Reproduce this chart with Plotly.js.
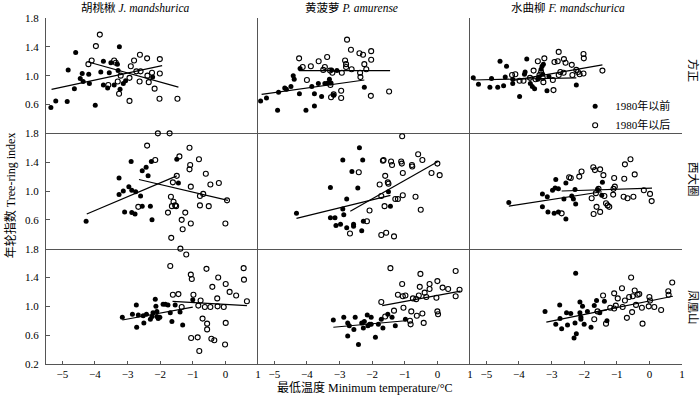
<!DOCTYPE html>
<html><head><meta charset="utf-8">
<script src="https://cdn.plot.ly/plotly-3.0.1.min.js"></script>
<style>html,body{margin:0;padding:0;background:#fff}#chart{width:700px;height:398px}</style>
</head><body><div id="chart"></div>
<script>
// ---- categories / labels ----
const species = ['胡桃楸 <i>J. mandshurica</i>', '黄菠萝 <i>P. amurense</i>', '水曲柳 <i>F. mandschurica</i>'];
const sites = ['方正', '西大圈', '凤凰山'];
const groups = ['1980年以前', '1980年以后'];
const xTickVals = [-5, -4, -3, -2, -1, 0, 1];
const yTickValsUpper = [0.6, 1.0, 1.4, 1.8];
const yTickValsBottom = [0.2, 0.6, 1.0, 1.4, 1.8];
const xTitle = '最低温度 Minimum temperature/°C';
const yTitle = '年轮指数 Tree-ring index';

// ---- 方正 / J. mandshurica ----
const p11_pre_x = [-5.35,-5.20,-4.85,-4.82,-4.59,-4.63,-4.45,-4.39,-4.36,-4.19,-4.17,-3.99,-3.82,-3.74,-3.74,-3.61,-3.56,-3.51,-3.31,-3.25,-3.29,-3.41,-3.23,-3.13,-3.06,-2.23];
const p11_pre_y = [0.56,0.65,0.64,1.08,1.32,0.82,0.96,1.03,0.92,1.02,0.89,0.59,1.05,1.20,0.87,0.83,1.04,1.18,1.16,1.40,1.07,0.87,0.81,0.89,0.93,0.98];
const p11_post_x = [-4.20,-4.10,-3.97,-3.85,-3.59,-3.41,-3.36,-3.30,-3.26,-3.21,-2.94,-2.94,-2.90,-2.80,-2.73,-2.62,-2.60,-2.63,-2.40,-2.39,-2.35,-2.25,-2.17,-2.02,-2.01,-2.01,-1.47];
const p11_post_y = [1.16,1.21,1.41,1.57,0.87,1.21,1.18,0.92,0.75,1.00,0.65,0.97,1.13,1.21,1.06,1.29,1.06,0.92,1.24,1.00,0.91,1.04,0.82,0.68,1.23,1.03,0.68];
const p11_fitPre_x = [-5.33,-1.94], p11_fitPre_y = [0.81,1.14];
const p11_fitPost_x = [-4.20,-1.44], p11_fitPost_y = [1.19,0.84];

// ---- 方正 / P. amurense ----
const p12_pre_x = [-5.42,-5.24,-4.90,-4.87,-4.68,-4.63,-4.49,-4.42,-4.39,-4.23,-4.21,-4.03,-3.85,-3.77,-3.77,-3.65,-3.55,-3.45,-3.36,-3.31,-3.26,-3.24,-3.18,-3.08,-2.24];
const p12_pre_y = [0.65,0.69,0.52,0.77,0.83,0.81,0.85,1.00,0.95,0.75,1.10,0.52,0.85,0.58,0.75,0.89,0.71,0.89,0.90,0.95,0.90,1.08,0.73,1.07,0.84];
const p12_post_x = [-4.24,-4.13,-4.00,-3.88,-3.64,-3.50,-3.45,-3.38,-3.29,-3.28,-3.26,-3.22,-3.18,-2.95,-2.93,-2.95,-2.83,-2.80,-2.80,-2.77,-2.65,-2.63,-2.39,-2.37,-2.36,-2.28,-2.24,-2.18,-2.03,-2.03,-2.04,-1.48];
const p12_post_y = [1.24,1.12,0.94,1.13,1.20,1.08,1.12,1.26,1.07,0.87,0.70,1.04,0.74,0.79,1.04,0.69,1.21,1.16,1.12,1.50,1.36,1.09,1.31,1.04,0.98,1.29,1.16,1.09,1.34,1.22,0.72,0.78];
const p12_fitPre_x = [-5.39,-2.24], p12_fitPre_y = [0.74,0.94];
const p12_fitPost_x = [-4.24,-1.45], p12_fitPost_y = [1.07,1.07];

// ---- 方正 / F. mandschurica ----
const p13_pre_x = [-5.40,-5.24,-4.89,-4.84,-4.65,-4.58,-4.47,-4.42,-4.38,-4.19,-4.19,-3.98,-3.83,-3.81,-3.76,-3.65,-3.59,-3.52,-3.42,-3.39,-3.32,-3.29,-3.27,-3.25,-3.14,-3.08,-2.24];
const p13_pre_y = [0.97,0.88,0.84,0.96,0.84,1.20,0.86,0.98,1.13,0.89,0.95,0.71,1.02,1.05,1.23,0.89,0.85,0.82,0.95,0.98,1.09,1.13,1.02,1.16,0.79,0.99,0.87];
const p13_post_x = [-4.21,-4.11,-3.98,-3.86,-3.66,-3.55,-3.49,-3.42,-3.37,-3.32,-3.25,-3.22,-3.27,-2.94,-2.96,-2.91,-2.81,-2.78,-2.78,-2.73,-2.63,-2.62,-2.57,-2.38,-2.36,-2.24,-2.19,-2.14,-2.02,-2.01,-2.02,-1.44];
const p13_post_y = [1.01,1.02,0.93,0.93,0.97,1.07,0.95,1.20,1.01,1.05,0.91,1.24,0.97,0.80,0.94,1.19,1.20,1.33,1.01,1.05,1.04,1.23,1.18,1.15,1.01,1.08,1.05,1.02,1.30,1.24,1.03,1.07];
const p13_fitPre_x = [-5.40,-2.24], p13_fitPre_y = [0.94,0.97];
const p13_fitPost_x = [-4.21,-1.44], p13_fitPost_y = [0.93,1.15];

// ---- 西大圈 / J. mandshurica ----
const p21_pre_x = [-4.27,-3.26,-3.26,-3.13,-3.09,-2.96,-2.89,-2.87,-2.87,-2.77,-2.75,-2.60,-2.55,-2.55,-2.43,-2.37,-2.30,-2.27,-2.25,-1.49,-1.44];
const p21_pre_y = [0.58,1.18,0.95,1.00,0.71,1.06,1.41,0.70,1.01,0.68,0.99,0.93,1.28,0.79,1.33,1.21,0.79,1.41,0.60,1.44,1.11];
const p21_post_x = [-2.67,-2.40,-2.15,-2.07,-1.76,-1.71,-1.67,-1.66,-1.64,-1.61,-1.59,-1.54,-1.51,-1.49,-1.41,-1.34,-1.31,-1.23,-1.10,-1.08,-1.10,-1.06,-1.06,-0.81,-0.78,-0.78,-0.68,-0.60,-0.51,-0.46,-0.20,0.00,0.05];
const p21_post_y = [0.78,1.63,1.43,1.80,0.70,1.80,0.92,0.35,0.79,1.12,0.85,0.80,0.79,1.21,1.48,0.60,0.47,0.70,1.60,1.36,1.30,1.06,0.55,1.44,0.80,0.93,0.96,1.24,0.79,1.09,1.11,0.55,0.87];
const p21_fitPre_x = [-4.25,-1.49], p21_fitPre_y = [0.68,1.21];
const p21_fitPost_x = [-2.65,0.08], p21_fitPost_y = [1.16,0.87];

// ---- 西大圈 / P. amurense ----
const p22_pre_x = [-4.32,-3.28,-3.28,-3.14,-3.11,-2.97,-2.90,-2.90,-2.87,-2.78,-2.78,-2.62,-2.57,-2.57,-2.44,-2.39,-2.32,-2.29,-2.27,-1.50,-1.44];
const p22_pre_y = [0.69,1.05,0.63,0.63,0.52,0.54,1.43,0.75,0.67,0.89,0.49,1.27,0.54,0.51,1.04,1.60,0.45,1.43,0.58,0.99,0.79];
const p22_post_x = [-2.68,-2.41,-2.16,-2.08,-1.77,-1.72,-1.72,-1.67,-1.65,-1.62,-1.60,-1.57,-1.52,-1.50,-1.42,-1.39,-1.33,-1.29,-1.21,-1.11,-1.09,-1.08,-1.06,-1.06,-0.78,-0.77,-0.67,-0.59,-0.51,-0.46,-0.18,0.00,0.07];
const p22_post_y = [0.41,1.26,0.58,0.73,1.09,0.39,0.93,1.42,1.43,0.79,1.21,0.42,1.12,1.10,1.41,1.36,0.37,0.89,0.89,1.41,1.38,1.76,1.25,0.94,1.36,1.34,0.92,1.51,0.74,1.43,1.25,1.38,1.22];
const p22_fitPre_x = [-4.32,-1.44], p22_fitPre_y = [0.62,0.94];
const p22_fitPost_x = [-2.67,0.02], p22_fitPost_y = [0.72,1.41];

// ---- 西大圈 / F. mandschurica ----
const p23_pre_x = [-4.31,-3.28,-3.28,-3.13,-3.11,-2.97,-2.92,-2.89,-2.87,-2.79,-2.79,-2.62,-2.56,-2.56,-2.38,-2.33,-2.28,-2.26,-1.59,-1.46,-1.44];
const p23_pre_y = [0.84,0.96,0.78,0.92,0.71,1.01,0.69,1.04,1.16,1.03,0.71,0.89,1.11,0.61,0.93,0.89,1.02,0.82,1.02,0.94,1.12];
const p23_post_x = [-2.69,-2.46,-2.41,-2.15,-2.08,-1.77,-1.72,-1.67,-1.71,-1.62,-1.64,-1.56,-1.51,-1.51,-1.41,-1.38,-1.33,-1.28,-1.23,-1.11,-1.10,-1.08,-1.06,-0.79,-0.77,-0.75,-0.67,-0.58,-0.49,-0.45,-0.17,0.02,0.07];
const p23_post_y = [0.69,1.19,1.18,1.20,1.27,0.90,1.33,1.29,0.68,0.78,0.97,1.03,1.30,0.71,1.22,0.93,0.83,0.80,0.78,0.95,1.03,1.18,1.06,0.92,1.17,1.37,0.90,1.44,0.92,1.23,1.01,0.96,0.86];
const p23_fitPre_x = [-4.31,-1.46], p23_fitPre_y = [0.79,0.99];
const p23_fitPost_x = [-2.69,0.08], p23_fitPost_y = [1.00,1.04];

// ---- 凤凰山 / J. mandshurica ----
const p31_pre_x = [-3.16,-2.85,-2.73,-2.72,-2.67,-2.52,-2.50,-2.42,-2.30,-2.25,-2.22,-2.15,-2.13,-2.10,-2.10,-2.06,-2.01,-1.91,-1.84,-1.76,-1.69,-1.64,-1.54,-1.39,-1.31,-1.00];
const p31_pre_y = [0.85,0.89,1.02,0.71,0.88,0.87,0.77,0.89,0.82,0.86,0.91,1.10,1.00,0.93,0.86,0.83,0.85,1.03,1.03,1.02,0.91,0.79,1.02,0.92,0.74,1.09];
const p31_post_x = [-1.69,-1.61,-1.44,-1.38,-1.34,-1.20,-1.06,-1.03,-1.05,-0.98,-0.85,-0.83,-0.80,-0.76,-0.70,-0.63,-0.58,-0.56,-0.56,-0.46,-0.43,-0.40,-0.34,-0.25,-0.24,-0.22,-0.05,-0.01,0.01,0.01,0.13,0.33,0.56,0.57,0.66];
const p31_post_y = [1.56,1.16,1.17,1.80,0.99,1.72,1.44,1.38,0.56,1.16,0.57,1.01,0.38,1.08,0.83,0.99,1.52,0.76,0.68,0.99,0.55,1.27,0.53,1.11,1.00,1.40,0.99,0.47,1.31,0.77,1.20,1.15,1.53,1.37,1.07];
const p31_fitPre_x = [-3.16,-1.00], p31_fitPre_y = [0.81,0.99];
const p31_fitPost_x = [-1.62,0.66], p31_fitPost_y = [1.07,1.01];

// ---- 凤凰山 / P. amurense ----
const p32_pre_x = [-3.19,-2.87,-2.75,-2.75,-2.70,-2.56,-2.52,-2.42,-2.32,-2.27,-2.24,-2.15,-2.13,-2.08,-2.03,-2.03,-1.90,-1.81,-1.72,-1.67,-1.52,-1.39,-1.29,-0.98];
const p32_pre_y = [0.81,0.85,0.59,0.77,0.73,0.68,0.85,0.47,0.77,0.70,0.79,0.88,0.73,0.75,0.85,0.75,0.57,0.75,0.82,0.70,0.89,0.85,0.73,0.82];
const p32_post_x = [-1.72,-1.60,-1.44,-1.33,-1.21,-1.08,-1.06,-0.98,-1.04,-0.84,-0.82,-0.80,-0.75,-0.65,-0.63,-0.57,-0.54,-0.52,-0.46,-0.42,-0.39,-0.34,-0.24,-0.24,-0.03,0.00,0.00,0.02,0.16,0.33,0.56,0.56,0.68];
const p32_post_y = [1.06,0.86,1.53,0.94,1.16,1.31,1.14,1.15,0.98,0.80,0.75,0.93,1.11,1.10,0.87,1.15,1.27,1.45,0.90,0.77,1.19,1.13,1.31,1.24,1.12,1.35,0.93,0.89,1.26,1.24,1.49,1.14,1.23];
const p32_fitPre_x = [-3.19,-0.98], p32_fitPre_y = [0.71,0.80];
const p32_fitPost_x = [-1.69,0.71], p32_fitPost_y = [1.01,1.21];

// ---- 凤凰山 / F. mandschurica ----
const p33_pre_x = [-3.20,-2.87,-2.75,-2.74,-2.69,-2.54,-2.51,-2.41,-2.31,-2.28,-2.26,-2.24,-2.13,-2.13,-2.10,-2.10,-2.05,-2.00,-1.90,-1.79,-1.69,-1.62,-1.52,-1.38,-1.30];
const p33_pre_y = [0.93,0.75,1.02,0.83,0.69,0.91,0.74,0.90,0.56,0.77,1.46,0.62,1.06,0.91,0.85,0.82,1.00,0.75,0.93,0.71,1.01,1.08,0.91,1.07,0.80];
const p33_post_x = [-1.69,-1.59,-1.42,-1.33,-1.20,-1.08,-1.08,-1.03,-0.97,-0.84,-0.82,-0.75,-0.69,-0.62,-0.56,-0.53,-0.51,-0.45,-0.41,-0.36,-0.31,-0.23,-0.21,-0.02,0.00,0.02,0.15,0.36,0.58,0.59,0.70];
const p33_post_y = [0.82,0.93,1.15,0.76,0.98,0.97,1.18,1.01,1.11,1.25,0.99,1.08,0.84,1.13,1.40,0.92,1.14,1.22,1.02,1.16,1.17,0.98,0.76,1.00,1.13,1.08,0.99,0.95,1.21,1.16,1.33];
const p33_fitPre_x = [-3.16,-1.30], p33_fitPre_y = [0.78,0.95];
const p33_fitPost_x = [-1.69,0.72], p33_fitPost_y = [0.92,1.14];

const panels = [
  [p11_pre_x,p11_pre_y,p11_post_x,p11_post_y,p11_fitPre_x,p11_fitPre_y,p11_fitPost_x,p11_fitPost_y],
  [p12_pre_x,p12_pre_y,p12_post_x,p12_post_y,p12_fitPre_x,p12_fitPre_y,p12_fitPost_x,p12_fitPost_y],
  [p13_pre_x,p13_pre_y,p13_post_x,p13_post_y,p13_fitPre_x,p13_fitPre_y,p13_fitPost_x,p13_fitPost_y],
  [p21_pre_x,p21_pre_y,p21_post_x,p21_post_y,p21_fitPre_x,p21_fitPre_y,p21_fitPost_x,p21_fitPost_y],
  [p22_pre_x,p22_pre_y,p22_post_x,p22_post_y,p22_fitPre_x,p22_fitPre_y,p22_fitPost_x,p22_fitPost_y],
  [p23_pre_x,p23_pre_y,p23_post_x,p23_post_y,p23_fitPre_x,p23_fitPre_y,p23_fitPost_x,p23_fitPost_y],
  [p31_pre_x,p31_pre_y,p31_post_x,p31_post_y,p31_fitPre_x,p31_fitPre_y,p31_fitPost_x,p31_fitPost_y],
  [p32_pre_x,p32_pre_y,p32_post_x,p32_post_y,p32_fitPre_x,p32_fitPre_y,p32_fitPost_x,p32_fitPost_y],
  [p33_pre_x,p33_pre_y,p33_post_x,p33_post_y,p33_fitPre_x,p33_fitPre_y,p33_fitPost_x,p33_fitPost_y]
];

const FONT = "'Liberation Serif','Times New Roman','Noto Sans CJK SC',serif";
const AXC = '#555';
const traces = [];
const layout = {
  width: 700, height: 398,
  margin: {l: 46, r: 18, t: 18, b: 34},
  paper_bgcolor: '#fff', plot_bgcolor: 'rgba(0,0,0,0)',
  font: {family: FONT, size: 11, color: '#000'},
  showlegend: true,
  legend: {x: 0.832, y: 0.787, xanchor: 'left', yanchor: 'top', bgcolor: 'rgba(0,0,0,0)',
           font: {family: FONT, size: 11, color: '#000'}, itemwidth: 30, tracegroupgap: 0},
  annotations: []
};

panels.forEach((p, i) => {
  const r = Math.floor(i / 3), c = i % 3, k = i + 1;
  const xs = k === 1 ? 'x' : 'x' + k, ys = k === 1 ? 'y' : 'y' + k;
  traces.push({type: 'scatter', mode: 'lines', x: p[4], y: p[5], xaxis: xs, yaxis: ys,
    line: {color: '#000', width: 1.2}, showlegend: false, hoverinfo: 'skip'});
  traces.push({type: 'scatter', mode: 'lines', x: p[6], y: p[7], xaxis: xs, yaxis: ys,
    line: {color: '#000', width: 1.2}, showlegend: false, hoverinfo: 'skip'});
  traces.push({type: 'scatter', mode: 'markers', x: p[0], y: p[1], xaxis: xs, yaxis: ys,
    name: groups[0], showlegend: i === 0, cliponaxis: false,
    marker: {symbol: 'circle', size: 5, color: '#000'}});
  traces.push({type: 'scatter', mode: 'markers', x: p[2], y: p[3], xaxis: xs, yaxis: ys,
    name: groups[1], showlegend: i === 0, cliponaxis: false,
    marker: {symbol: 'circle-open', size: 5, color: '#000', line: {width: 1.1, color: '#000'}}});

  layout['xaxis' + (k === 1 ? '' : k)] = {
    domain: [c / 3, (c + 1) / 3], range: [-5.5, 1], anchor: ys,
    showline: true, linecolor: AXC, linewidth: 1, zeroline: false, showgrid: false,
    ticks: r === 2 ? 'inside' : '', ticklen: 3, tickcolor: AXC, tickvals: xTickVals,
    showticklabels: r === 2, tickfont: {family: FONT, size: 11}, fixedrange: true
  };
  layout['yaxis' + (k === 1 ? '' : k)] = {
    domain: [(2 - r) / 3, (3 - r) / 3], range: [0.2, 1.8], anchor: xs,
    showline: true, linecolor: AXC, linewidth: 1, zeroline: false, showgrid: false,
    ticks: c === 0 ? 'inside' : '', ticklen: 4, tickcolor: AXC,
    tickvals: r === 2 ? yTickValsBottom : yTickValsUpper, tickformat: '.1f',
    ticklabelstandoff: 4,
    showticklabels: c === 0, tickfont: {family: FONT, size: 11}, fixedrange: true
  };
});

const titleX = [0.1415, 0.481, 0.8208];
species.forEach((s, c) => layout.annotations.push({
  text: s, xref: 'paper', yref: 'paper', x: titleX[c], y: 1.029, showarrow: false,
  xanchor: 'center', yanchor: 'middle', font: {family: FONT, size: 11.5}
}));
const siteY = [0.85, 0.535, 0.165];
sites.forEach((s, r) => layout.annotations.push({
  text: s, xref: 'paper', yref: 'paper', x: 1.0173, y: siteY[r], showarrow: false,
  textangle: 90, xanchor: 'center', yanchor: 'middle', font: {family: FONT, size: 11.5}
}));
layout.annotations.push({text: yTitle, xref: 'paper', yref: 'paper', x: -0.0566, y: 0.488,
  showarrow: false, textangle: -90, xanchor: 'center', yanchor: 'middle', font: {family: FONT, size: 12}});
layout.annotations.push({text: xTitle, xref: 'paper', yref: 'paper', x: 0.5, y: -0.069,
  showarrow: false, xanchor: 'center', yanchor: 'middle', font: {family: FONT, size: 12}});

Plotly.newPlot('chart', traces, layout, {displayModeBar: false, staticPlot: true});
</script></body></html>
